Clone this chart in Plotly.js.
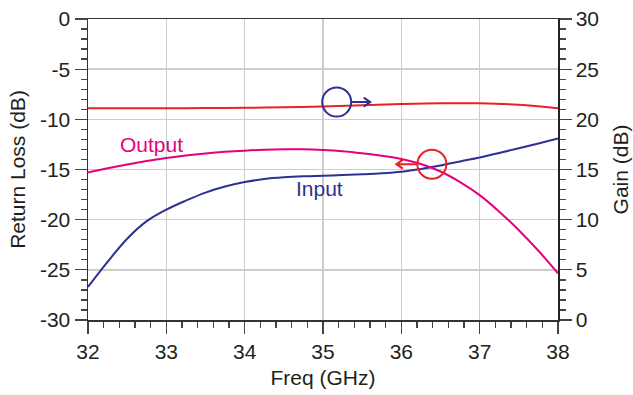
<!DOCTYPE html>
<html>
<head>
<meta charset="utf-8">
<script src="https://cdn.plot.ly/plotly-3.0.1.min.js"></script>
<style>html,body{margin:0;padding:0;background:#fff;}#chart{width:633px;height:395px;}</style>
</head>
<body>
<div id="chart"></div>
<script>
// Data
const freqGHz = [32, 32.25, 32.5, 32.75, 33, 33.25, 33.5, 33.75, 34, 34.25, 34.5, 34.75, 35, 35.25, 35.5, 35.75, 36, 36.25, 36.5, 36.75, 37, 37.25, 37.5, 37.75, 38];
const inputRL = [-26.7, -24.2, -21.9, -20.15, -19.0, -18.1, -17.3, -16.7, -16.25, -15.95, -15.78, -15.68, -15.62, -15.56, -15.48, -15.38, -15.22, -14.95, -14.6, -14.2, -13.8, -13.35, -12.88, -12.4, -11.9];
const outputRL = [-15.3, -14.88, -14.5, -14.15, -13.85, -13.6, -13.4, -13.24, -13.12, -13.03, -12.98, -12.98, -13.05, -13.18, -13.38, -13.63, -13.95, -14.45, -15.2, -16.25, -17.55, -19.2, -21.05, -23.1, -25.35];
const gainFreqGHz = [32, 32.5, 33, 33.5, 34, 34.5, 35, 35.5, 36, 36.5, 37, 37.5, 38];
const gainDB = [21.1, 21.1, 21.1, 21.12, 21.15, 21.2, 21.28, 21.4, 21.52, 21.6, 21.6, 21.45, 21.1];

const xTickVals = [32, 33, 34, 35, 36, 37, 38];
const xTickText = ["32", "33", "34", "35", "36", "37", "38"];
const leftTickVals = [-30, -25, -20, -15, -10, -5, 0];
const leftTickText = ["-30", "-25", "-20", "-15", "-10", "-5", "0"];
const rightTickVals = [0, 5, 10, 15, 20, 25, 30];
const rightTickText = ["0", "5", "10", "15", "20", "25", "30"];

const seriesNames = ["Input", "Output", "Gain"];
const labelInput = {text: "Input", x: 34.95, y: -16.85};
const labelOutput = {text: "Output", x: 32.81, y: -12.55};
const markerGain = {x: 35.175, y: -8.28};
const markerReturn = {x: 36.39, y: -14.47};

const FONT = "Liberation Sans, Arial, Helvetica, sans-serif";
const FS = 21;
const txt = "#231f20";
const cBlue = "#2e3192";
const cMag = "#e6007e";
const cRed = "#e8202a";

const traces = [
  {x: freqGHz, y: inputRL, name: seriesNames[0], mode: "lines", line: {color: cBlue, width: 2, shape: "spline", smoothing: 1}, yaxis: "y"},
  {x: freqGHz, y: outputRL, name: seriesNames[1], mode: "lines", line: {color: cMag, width: 2, shape: "spline", smoothing: 1}, yaxis: "y"},
  {x: gainFreqGHz, y: gainDB, name: seriesNames[2], mode: "lines", line: {color: cRed, width: 2, shape: "spline", smoothing: 1}, yaxis: "y2"}
];

const axisCommon = {
  ticks: "outside", ticklen: 12, tickwidth: 1.3, tickcolor: "#444",
  showline: true, linewidth: 1.5, zeroline: false,
  tickfont: {family: FONT, size: FS, color: txt},
  fixedrange: true
};
const minorY = {dtick: 1, tick0: 0, ticks: "outside", ticklen: 6, tickwidth: 1.3, tickcolor: "#444", showgrid: false};

const layout = {
  width: 633, height: 395,
  margin: {l: 88, r: 75, t: 19, b: 75, pad: 0},
  paper_bgcolor: "#fff", plot_bgcolor: "#fff",
  showlegend: false,
  font: {family: FONT, size: FS, color: txt},
  xaxis: Object.assign({}, axisCommon, {
    range: [32, 38], tickmode: "array", tickvals: xTickVals, ticktext: xTickText,
    linecolor: "#333", mirror: true,
    showgrid: true, gridcolor: "#cdcdcd", gridwidth: 1.5,
    minor: {dtick: 0.2, tick0: 32, ticks: "outside", ticklen: 6, tickwidth: 1.3, tickcolor: "#444", showgrid: false},
    title: {text: "Freq (GHz)", font: {family: FONT, size: FS, color: txt}, standoff: 8}
  }),
  yaxis: Object.assign({}, axisCommon, {
    range: [-30, 0], tickmode: "array", tickvals: leftTickVals, ticktext: leftTickText,
    linecolor: "#333",
    showgrid: true, gridcolor: "#cdcdcd", gridwidth: 1.5,
    minor: minorY,
    title: {text: "Return Loss (dB)", font: {family: FONT, size: FS, color: txt}, standoff: 8}
  }),
  yaxis2: Object.assign({}, axisCommon, {
    range: [0, 30], overlaying: "y", side: "right", tickmode: "array", tickvals: rightTickVals, ticktext: rightTickText,
    linecolor: "#222", showgrid: false,
    minor: minorY,
    title: {text: "Gain (dB)", font: {family: FONT, size: FS, color: txt}, standoff: 15}
  }),
  annotations: [
    {x: labelOutput.x, y: labelOutput.y, xref: "x", yref: "y", text: labelOutput.text, showarrow: false,
     font: {family: FONT, size: FS, color: cMag}},
    {x: labelInput.x, y: labelInput.y, xref: "x", yref: "y", text: labelInput.text, showarrow: false,
     font: {family: FONT, size: FS, color: cBlue}}
  ],
  shapes: [
    {type: "circle", xref: "x", yref: "y", xsizemode: "pixel", ysizemode: "pixel",
     xanchor: markerGain.x, yanchor: markerGain.y, x0: -14.5, x1: 14.5, y0: -14.5, y1: 14.5,
     line: {color: cBlue, width: 2}},
    {type: "path", xref: "x", yref: "y", xsizemode: "pixel", ysizemode: "pixel",
     xanchor: markerGain.x, yanchor: markerGain.y,
     path: "M14.5,0 L33.5,0 M27,4.5 L33.5,0 L27,-4.5",
     line: {color: cBlue, width: 2}},
    {type: "circle", xref: "x", yref: "y", xsizemode: "pixel", ysizemode: "pixel",
     xanchor: markerReturn.x, yanchor: markerReturn.y, x0: -14.5, x1: 14.5, y0: -14.5, y1: 14.5,
     line: {color: cRed, width: 2}},
    {type: "path", xref: "x", yref: "y", xsizemode: "pixel", ysizemode: "pixel",
     xanchor: markerReturn.x, yanchor: markerReturn.y,
     path: "M-14.5,0 L-35.5,0 M-29,4.5 L-35.5,0 L-29,-4.5",
     line: {color: cRed, width: 2}}
  ]
};

Plotly.newPlot("chart", traces, layout, {staticPlot: true, displayModeBar: false});
</script>
</body>
</html>
